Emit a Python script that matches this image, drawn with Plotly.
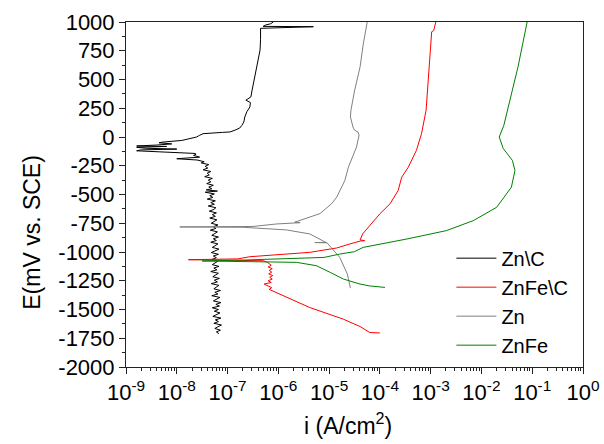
import plotly.graph_objects as go

# ---------------- data (E in mV vs SCE, log10 of i in A/cm^2) ----------------
znc_E = [-1710, -1695, -1680, -1665, -1650, -1635, -1620, -1605, -1590, -1575,
         -1560, -1545, -1530, -1515, -1500, -1485, -1470, -1455, -1440, -1425,
         -1410, -1395, -1380, -1365, -1350, -1335, -1320, -1305, -1290, -1275,
         -1260, -1245, -1230, -1215, -1200, -1185, -1170, -1155, -1140, -1125,
         -1110, -1095, -1080, -1065, -1050, -1035, -1020, -1005, -990, -975,
         -960, -945, -930, -915, -900, -885, -870, -855, -840, -825,
         -810, -795, -780, -765, -750, -735, -720, -705, -690, -675,
         -660, -645, -630, -615, -600, -585, -570, -555, -540, -525,
         -510, -495, -480, -470, -460, -450, -435, -420, -405, -390,
         -375, -360, -345, -330, -315, -300, -285, -270, -255, -240,
         -225, -215, -200, -189, -175, -160, -150, -143, -130, -120,
         -112, -105, -98, -90, -82, -78, -70, -60, -50, -44,
         -30, -15, 0, 15, 29, 40, 44, 60, 78, 100,
         130, 174, 220, 261, 300, 320, 340, 349, 400, 465,
         540, 610, 680, 756, 850, 945, 959, 962, 974, 985, 1000]
znc_logi = [-7.17, -7.22, -7.14, -7.25, -7.19, -7.12, -7.27, -7.18, -7.24, -7.13,
            -7.29, -7.20, -7.15, -7.26, -7.18, -7.30, -7.16, -7.23, -7.13, -7.28,
            -7.21, -7.15, -7.31, -7.19, -7.25, -7.14, -7.27, -7.22, -7.17, -7.32,
            -7.20, -7.26, -7.16, -7.29, -7.23, -7.18, -7.33, -7.21, -7.27, -7.17,
            -7.30, -7.24, -7.19, -7.31, -7.22, -7.28, -7.18, -7.32, -7.23, -7.17,
            -7.30, -7.24, -7.19, -7.33, -7.22, -7.28, -7.18, -7.31, -7.25, -7.20,
            -7.34, -7.23, -7.28, -7.19, -7.32, -7.26, -7.21, -7.35, -7.24, -7.30,
            -7.22, -7.36, -7.27, -7.23, -7.38, -7.26, -7.33, -7.24, -7.40, -7.29,
            -7.35, -7.26, -7.44, -7.20, -7.42, -7.31, -7.37, -7.28, -7.41, -7.33,
            -7.38, -7.30, -7.45, -7.36, -7.40, -7.33, -7.48, -7.39, -7.44, -7.37,
            -7.52, -7.46, -7.60, -8.00, -7.55, -7.67, -7.62, -7.64, -8.30, -8.79,
            -8.70, -8.00, -8.60, -8.79, -8.20, -8.79, -8.40, -8.10, -8.35, -8.27,
            -7.90, -7.75, -7.61, -7.55, -7.48, -7.10, -6.95, -6.85, -6.76, -6.72,
            -6.68, -6.66, -6.62, -6.56, -6.55, -6.64, -6.58, -6.54, -6.52, -6.49,
            -6.46, -6.43, -6.40, -6.36, -6.35, -6.35, -5.31, -6.30, -6.25, -6.15, -6.10]

znfec_E = [-1704, -1700, -1648, -1584, -1483, -1420, -1366, -1340, -1325, -1310,
           -1295, -1279, -1265, -1250, -1235, -1220, -1205, -1190, -1175, -1160,
           -1145, -1130, -1115, -1100, -1088, -1076, -1067, -1060, -1052, -1041,
           -1003, -965, -930, -905, -901, -895, -843, -785, -668, -581,
           -465, -349, -262, -116, 29, 233, 465, 697, 915, 925, 1000]
znfec_logi = [-4.00, -4.20, -4.39, -4.72, -5.38, -5.70, -5.97, -6.12, -6.18, -6.13,
              -6.19, -6.28, -6.14, -6.20, -6.12, -6.17, -6.11, -6.19, -6.13, -6.18,
              -6.12, -6.20, -6.14, -6.18, -6.22, -6.30, -7.77, -6.80, -6.69, -6.56,
              -5.38, -4.85, -4.59, -4.39, -4.30, -4.39, -4.34, -4.23, -4.00, -3.80,
              -3.64, -3.57, -3.44, -3.28, -3.18, -3.09, -3.05, -3.02, -2.98, -2.94,
              -2.90]

zn_E = [-1314, -1192, -1047, -916, -918, -920, -843, -808, -785, -782,
        -778, -756, -745, -741, -666, -580, -523, -378, -262, -87,
        15, 43, 60, 87, 174, 233, 400, 610, 800, 1000]
zn_logi = [-4.58, -4.64, -4.79, -5.05, -5.28, -5.05, -5.38, -5.84, -6.70, -7.94,
           -6.50, -6.03, -5.57, -5.68, -5.18, -4.95, -4.85, -4.69, -4.62, -4.46,
           -4.41, -4.43, -4.50, -4.53, -4.58, -4.57, -4.50, -4.39, -4.33, -4.25]

znfe_E = [-1308, -1295, -1279, -1235, -1177, -1119, -1090, -1084, -1078, -1070,
          -1055, -1047, -1018, -997, -960, -887, -814, -727, -611, -436,
          -291, -204, -101, 0, 100, 320, 610, 1000]
znfe_logi = [-3.90, -4.20, -4.39, -4.72, -4.98, -5.25, -5.64, -6.36, -7.50, -6.69,
             -5.64, -5.10, -4.79, -4.50, -4.33, -3.47, -2.69, -2.16, -1.70, -1.41,
             -1.34, -1.39, -1.57, -1.65, -1.56, -1.44, -1.28, -1.10]

series_names = ["Zn\\C", "ZnFe\\C", "Zn", "ZnFe"]
series_colors = ["#000000", "#ff0000", "#808080", "#008000"]

x_tick_exp = [-9, -8, -7, -6, -5, -4, -3, -2, -1, 0]
y_ticks = [1000, 750, 500, 250, 0, -250, -500, -750, -1000, -1250, -1500, -1750, -2000]

# ---------------- figure ----------------
FONT = "Arial, Liberation Sans, sans-serif"
fig = go.Figure()
for E, lg, name, col in zip([znc_E, znfec_E, zn_E, znfe_E],
                            [znc_logi, znfec_logi, zn_logi, znfe_logi],
                            series_names, series_colors):
    fig.add_trace(go.Scatter(x=[10 ** v for v in lg], y=E, mode="lines", name=name,
                             line=dict(color=col, width=1)))

x_minor = [k * 10.0 ** d for d in x_tick_exp[:-1] for k in range(2, 10)]
y_minor = [v - 125 for v in y_ticks[:-1]]

fig.update_layout(
    template="none",
    width=604, height=444,
    margin=dict(l=126, r=21, t=22, b=77, autoexpand=False),
    paper_bgcolor="white", plot_bgcolor="white",
    font=dict(family=FONT, size=22, color="black"),
    showlegend=True,
    legend=dict(x=0.712, y=0.372, xanchor="left", yanchor="top",
                bgcolor="rgba(0,0,0,0)", font=dict(size=20),
                tracegroupgap=0, itemwidth=40, borderwidth=0),
    xaxis=dict(type="log", range=[-9, 0], showgrid=False, zeroline=False,
               automargin=False,
               showline=True, linecolor="#222", linewidth=1, mirror=True,
               ticks="outside", ticklen=6, tickwidth=1, tickcolor="#222",
               tickvals=[10.0 ** e for e in x_tick_exp],
               ticktext=["10<sup>%d</sup>" % e for e in x_tick_exp],
               minor=dict(tickvals=x_minor, ticks="outside", ticklen=3,
                          tickcolor="#222", showgrid=False),
               tickfont=dict(size=22)),
    yaxis=dict(range=[-2000, 1000], showgrid=False, zeroline=False,
               automargin=False,
               showline=True, linecolor="#222", linewidth=1, mirror=True,
               ticks="outside", ticklen=6, tickwidth=1, tickcolor="#222",
               tickvals=y_ticks, ticktext=[str(v) for v in y_ticks],
               minor=dict(tickvals=y_minor, ticks="outside", ticklen=3,
                          tickcolor="#222", showgrid=False),
               tickfont=dict(size=22)),
    annotations=[
        dict(text="E(mV vs. SCE)", xref="paper", yref="paper", x=-0.205, y=0.39,
             textangle=-90, showarrow=False, font=dict(size=23),
             xanchor="center", yanchor="middle"),
        dict(text="i (A/cm<sup>2</sup>)", xref="paper", yref="paper", x=0.486, y=-0.165,
             showarrow=False, font=dict(size=23), xanchor="center", yanchor="middle"),
    ],
)

fig.write_html("out.html")
